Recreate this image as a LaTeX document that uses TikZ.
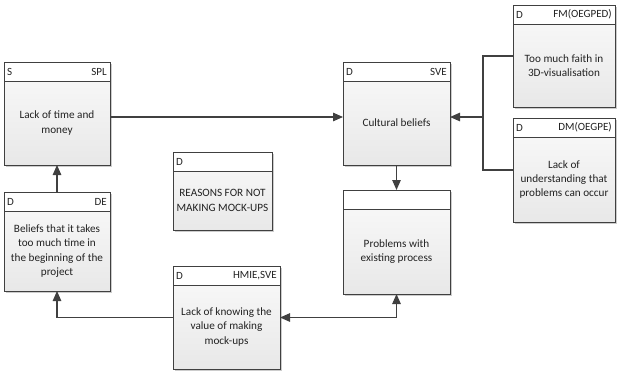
\documentclass[tikz,border=0pt]{standalone}
\usepackage{fontspec}
\setmainfont{Carlito}
\usetikzlibrary{arrows.meta,shadows,calc}

\definecolor{linec}{HTML}{404040}
\definecolor{txtc}{HTML}{222222}

\tikzset{
  ebox/.style={rectangle, inner sep=0pt, outer sep=0pt,
    top color=black!2, bottom color=black!9,
    drop shadow={shadow xshift=2pt, shadow yshift=-2pt, fill=black!25, opacity=0.8}},
  frame/.style={draw=linec, line width=0.9pt},
  tag/.style={inner sep=3pt, text=txtc, font=\fontsize{11}{13}\selectfont},
  body/.style={align=center, inner sep=0pt, text=txtc, font=\fontsize{11.2}{14.2}\selectfont},
  conn/.style={draw=linec, line width=1.2pt},
  tip/.style={-{Triangle[length=10pt,width=8.5pt]}},
}

% \ebox{name}{x1}{y1}{x2}{y2}{left tag}{right tag}{text}
\newcommand\ebox[8]{%
  \node[ebox, minimum width={(#4)-(#2)}, minimum height={(#5)-(#3)}] (#1)
    at ({((#2)+(#4))/2},{((#3)+(#5))/2}) {};
  \fill[white] (#1.north west) rectangle ([yshift=-19pt]#1.north east);
  \draw[frame] (#1.north west) rectangle (#1.south east);
  \draw[frame] ([yshift=-19pt]#1.north west) -- ([yshift=-19pt]#1.north east);
  \node[tag, anchor=west] (#1-l) at ([yshift=-9.5pt]#1.north west) {#6};
  \node[tag, anchor=east] (#1-r) at ([yshift=-9.5pt]#1.north east) {#7};
  \node[body] (#1-t) at ($([yshift=-19pt]#1.north)!0.5!(#1.south)$) {#8};
}

\begin{document}
\begin{tikzpicture}[x=1pt,y=-1pt]
\useasboundingbox (0,0) rectangle (619,372);

\ebox{spl}{4}{62}{110}{165}{S}{SPL}{Lack of time and\\money}
\ebox{de}{4}{192}{110}{291}{D}{DE}{Beliefs that it takes\\too much time in\\the beginning of the\\project}
\ebox{rsn}{173}{152}{272}{230}{D}{}{REASONS FOR NOT\\MAKING MOCK-UPS}
\ebox{hmie}{173}{266}{280}{369}{D}{HMIE,SVE}{Lack of knowing the\\value of making\\mock-ups}
\ebox{sve}{343}{62}{450}{165}{D}{SVE}{Cultural beliefs}
\ebox{prob}{343}{190}{450}{294}{}{}{Problems with\\existing process}
\ebox{fm}{513}{5}{615}{107}{D}{FM(OEGPED)}{Too much faith in\\3D-visualisation}
\ebox{dm}{513}{118}{615}{222}{D}{DM(OEGPE)}{Lack of\\understanding that\\problems can occur}

% junction where the two causes on the right merge
\coordinate (join) at (483,117);

\draw[conn, tip] (spl.east |- join) -- (sve.west |- join);
\draw[conn] (fm.west) -| (join);
\draw[conn] (dm.west) -| (join);
\draw[conn, tip] (join) -- (sve.east |- join);
\draw[conn, tip] (sve.south) -- (prob.north);
\draw[conn, tip] (de.north) -- (spl.south);
\draw[conn, tip] (hmie.west) -| (de.south);
\draw[conn, {Triangle[length=10pt,width=8.5pt]}-{Triangle[length=10pt,width=8.5pt]}] (hmie.east) -| (prob.south);
\end{tikzpicture}
\end{document}
